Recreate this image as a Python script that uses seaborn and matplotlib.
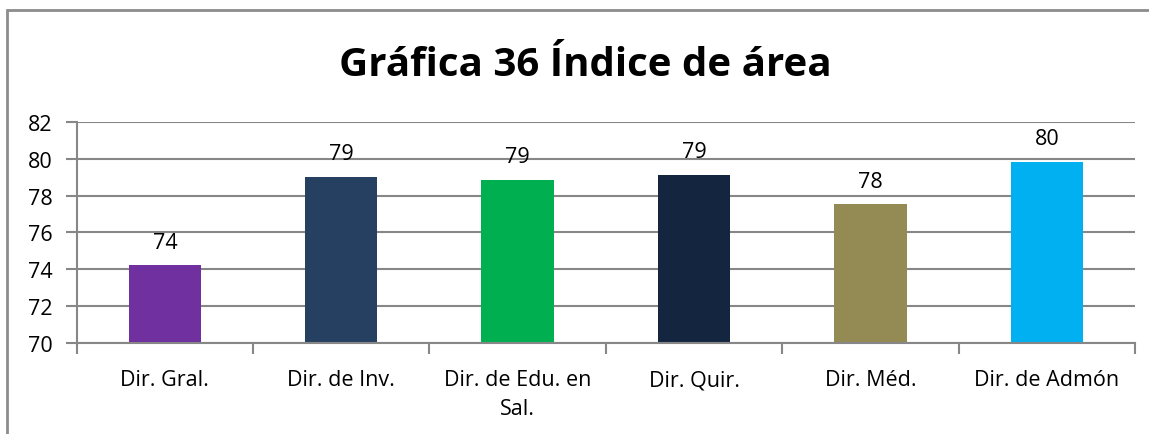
import matplotlib
matplotlib.use("Agg")
import matplotlib.pyplot as plt
from matplotlib.patches import Rectangle
from matplotlib.ticker import FixedLocator
import seaborn as sns
import pandas as pd

# Data
categories = ["Dir. Gral.", "Dir. de Inv.", "Dir. de Edu. en\nSal.", "Dir. Quir.", "Dir. Méd.", "Dir. de Admón"]
values = [74.22, 79.01, 78.85, 79.12, 77.54, 79.83]
colors = ["#7030A0", "#264061", "#00B050", "#14263F", "#948A54", "#00B0F0"]
title = "Gráfica 36 Índice de área"
y_ticks = [70, 72, 74, 76, 78, 80, 82]

sns.set_theme(style="white")
plt.rcParams["font.family"] = ["Open Sans", "DejaVu Sans"]

W, H = 1149, 435
fig = plt.figure(figsize=(W / 100, H / 100), dpi=100)
ax = fig.add_axes([76.7 / W, 1 - 343.7 / H, (1135 - 76.7) / W, (343.7 - 123) / H])

df = pd.DataFrame({"cat": categories, "val": values})
sns.barplot(data=df, x="cat", y="val", hue="cat", palette=colors,
            width=0.41, legend=False, ax=ax, saturation=1, linewidth=0)

grid_c = "#878787"
ax.set_ylim(70, 82)
ax.set_xlim(-0.5, len(categories) - 0.5)
ax.set_yticks(y_ticks)
ax.yaxis.grid(True, color=grid_c, linewidth=1.5)
ax.set_axisbelow(True)
ax.set_xlabel("")
ax.set_ylabel("")

for side in ["top", "right"]:
    ax.spines[side].set_visible(False)
for side in ["left", "bottom"]:
    ax.spines[side].set_color(grid_c)
    ax.spines[side].set_linewidth(1.5)

fs = 15.5
# category boundary ticks on the x axis
ax.xaxis.set_minor_locator(FixedLocator([i - 0.5 for i in range(len(categories) + 1)]))
ax.tick_params(axis="x", which="major", length=0, pad=19, labelsize=fs, labelcolor="black")
ax.tick_params(axis="x", which="minor", length=8, width=1.5, color=grid_c, direction="out", bottom=True)
ax.tick_params(axis="y", which="major", length=8, width=1.5, color=grid_c, direction="out",
               left=True, pad=9.5, labelsize=fs, labelcolor="black")
for lbl in ax.get_xticklabels():
    lbl.set_linespacing(1.5)

# value labels
for i, v in enumerate(values):
    ax.annotate(f"{v:.0f}", (i, v), xytext=(0, 9), textcoords="offset points",
                ha="center", va="bottom", fontsize=fs, color="black")

fig.text(585 / W, 1 - 66 / H, title, ha="center", va="center",
         fontsize=29, fontweight="bold", color="black")

# outer chart frame
fig.patches.append(Rectangle((7 / W, -0.1), 1.2, 1 - 11 / H + 0.1, transform=fig.transFigure,
                             fill=False, edgecolor="#8C8C8C", linewidth=2))

fig.savefig("out.png", dpi=100)
